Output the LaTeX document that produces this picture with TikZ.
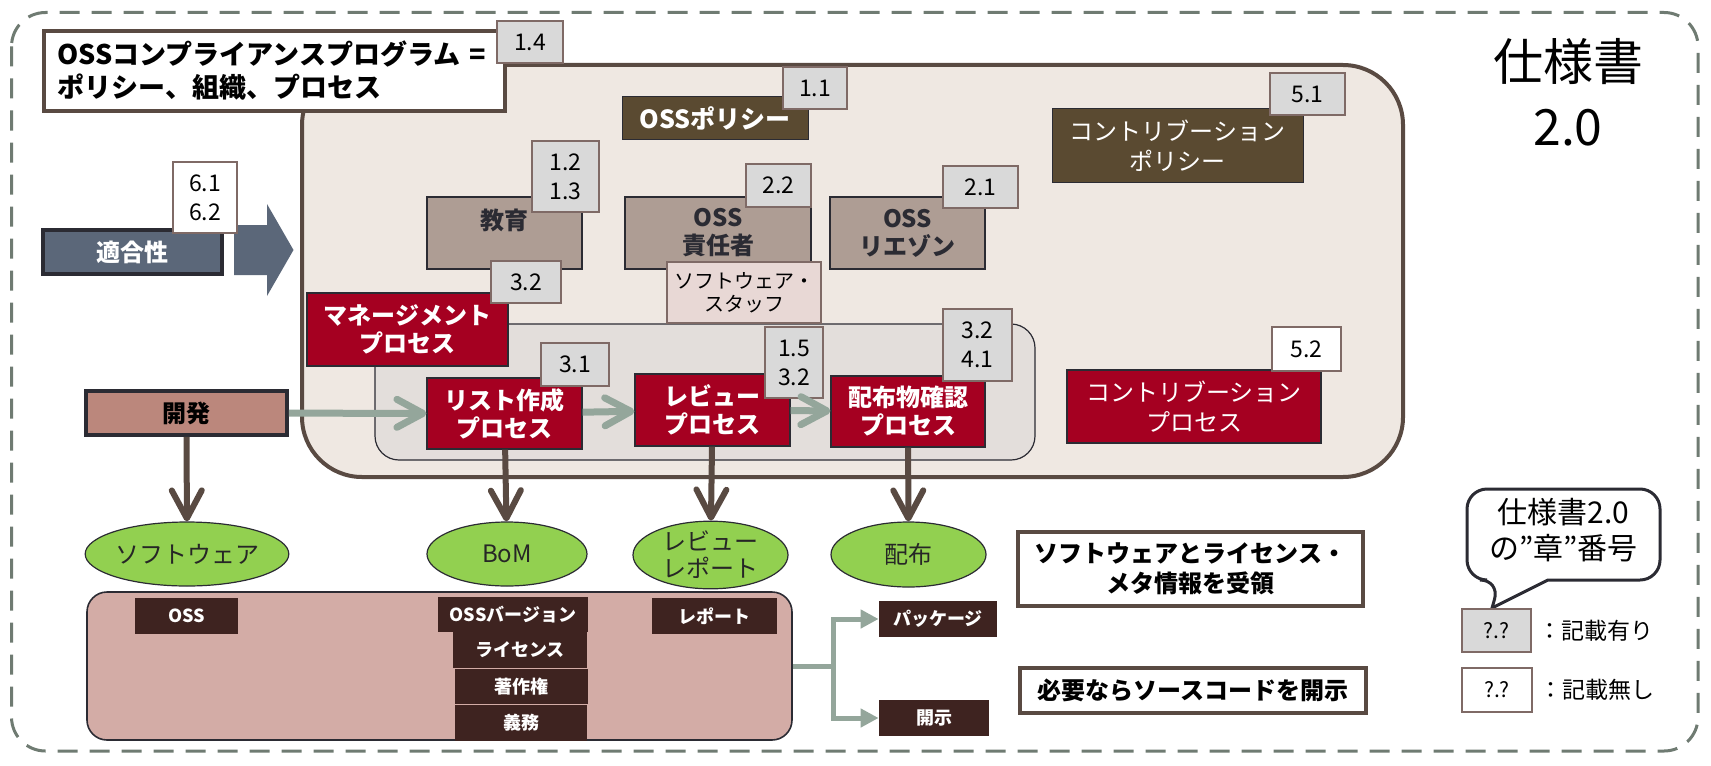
\documentclass[tikz,border=0pt]{standalone}
\usepackage{fontspec}
\setmainfont{Noto Sans CJK JP}
\usepackage{tikz}
\usetikzlibrary{positioning, shapes.geometric, arrows.meta}
\usetikzlibrary{calc}
\newcommand{\fsz}[2]{\fontsize{#1}{#2}\selectfont}
\definecolor{dashgray}{HTML}{6F7B72}
\definecolor{edgebrown}{HTML}{594A42}
\definecolor{darkline}{HTML}{2B2B33}
\definecolor{beige}{HTML}{EFE8E2}
\definecolor{innergray}{HTML}{E3DEDB}
\definecolor{crimson}{HTML}{A50021}
\definecolor{policybrown}{HTML}{5A4A31}
\definecolor{orgtaupe}{HTML}{AE9D94}
\definecolor{numgray}{HTML}{D9D9D9}
\definecolor{numedge}{HTML}{7F6A66}
\definecolor{staffpink}{HTML}{E8D8D5}
\definecolor{slate}{HTML}{5B6779}
\definecolor{devpink}{HTML}{BB877C}
\definecolor{flowgreen}{HTML}{94A69B}
\definecolor{leafgreen}{HTML}{92D050}
\definecolor{basepink}{HTML}{D3ACA6}
\definecolor{databrown}{HTML}{3E2320}
\tikzset{wh/.style 2 args={minimum width=#1*0.5pt, minimum height=#2*0.5pt}}
\tikzstyle{every node}=[inner sep=0pt, font=\fsz{12}{14}]
\tikzstyle{numbox} = [rectangle, draw=numedge, fill=numgray, line width=0.6pt, font=\fsz{11.5}{14.5}, align=center]
\tikzstyle{numboxw} = [numbox, fill=white]
\tikzstyle{procbox} = [rectangle, draw=darkline, line width=0.6pt, fill=crimson, text=white, font=\fsz{12}{14}\bfseries, align=center]
\tikzstyle{orgbox} = [rectangle, draw=darkline, line width=0.6pt, fill=orgtaupe, text=darkline, font=\fsz{12}{14}\bfseries, align=center]
\tikzstyle{policybox} = [rectangle, draw=darkline, line width=0.5pt, fill=policybrown, text=white, align=center]
\tikzstyle{outcome} = [ellipse, draw=darkline, line width=0.6pt, fill=leafgreen, text=black!85, font=\fsz{12}{13.5}, align=center]
\tikzstyle{databox} = [rectangle, fill=databrown, text=white, font=\fsz{9}{10}\bfseries]
\tikzstyle{notebox} = [rectangle, draw=edgebrown, line width=2pt, fill=white, font=\fsz{12}{15}\bfseries, align=center]
\tikzstyle{devbox} = [rectangle, draw=darkline, line width=1.8pt, font=\fsz{12}{14}\bfseries]
\tikzstyle{flowarrow} = [draw=flowgreen, line width=3.5pt, -{Straight Barb[length=13pt, width=14pt, round]}]
\tikzstyle{downarrow} = [draw=edgebrown, line width=3pt, -{Straight Barb[length=14pt, width=15pt, round]}]
\tikzstyle{forkline} = [draw=flowgreen, line width=2.5pt]
\tikzstyle{forkarrow} = [forkline, -{Triangle[length=9pt, width=9pt]}]

\begin{document}
\begin{tikzpicture}[x=0.5pt, y=-0.5pt]
    		\useasboundingbox (0,0) rectangle (1711,765);
    		%外枠
    		\draw[dashgray, line width=1.5pt, dash pattern=on 10pt off 6pt, rounded corners=17pt] (11.5,12.5) rectangle (1698,751);
    		\draw[edgebrown, line width=2pt, fill=beige, rounded corners=30pt] (302,65) rectangle (1403,477);
    		\draw[darkline, line width=0.6pt, fill=innergray, rounded corners=12pt] (375,324) rectangle (1035,460);
    		
    		%タイトル
    		\node (title) [rectangle, draw=edgebrown, line width=2pt, fill=white, wh={461}{80}, text width=217pt, align=left, font=\fsz{13.5}{16.5}\bfseries] at (274.5,71) {OSSコンプライアンスプログラム =\\ポリシー、組織、プロセス};
    		\node (spec) [font=\fsz{25}{32.5}, align=center] at (1568,92) {仕様書\\2.0};
    		
    		%ポリシーと組織
    		\node (policy) [policybox, wh={186}{42}, font=\fsz{12.5}{14}\bfseries] at (715,118) {OSSポリシー};
    		\node (cpolicy) [policybox, wh={251}{73}, font=\fsz{12}{15}] at (1177.5,145.5) {コントリブーション\\ポリシー};
    		\node (edu) [orgbox, wh={155}{72}] at (504.5,233) {教育\\~};
    		\node (officer) [orgbox, wh={186}{72}] at (718,233) {OSS\\責任者};
    		\node (staff) [rectangle, draw=numedge, line width=0.6pt, fill=staffpink, wh={154}{61}, font=\fsz{10}{11.5}, align=center] at (744,292.5) {ソフトウェア・\\スタッフ};
    		\node (liaison) [orgbox, wh={155}{72}] at (907.5,233) {OSS\\リエゾン};
    		
    		%プロセス
    		\node (mgmt) [procbox, wh={201}{73}] at (407.5,329.5) {マネージメント\\プロセス};
    		\node (listp) [procbox, wh={155}{71}] at (504.5,413.5) {リスト作成\\プロセス};
    		\node (reviewp) [procbox, wh={155}{72}] at (712.5,410) {レビュー\\プロセス};
    		\node (distp) [procbox, wh={154}{71}] at (908,411.5) {配布物確認\\プロセス};
    		\node (cproc) [procbox, wh={254}{73}, font=\fsz{12}{15}] at (1194,406.5) {コントリブーション\\プロセス};
    		
    		%適合性と開発
    		\node (conform) [devbox, fill=slate, text=white, wh={179}{44}] at (132.5,252) {適合性};
    		\fill[slate] (234,225) -- (267,225) -- (267,204) -- (293.5,250) -- (267,296) -- (267,275) -- (234,275) -- cycle;
    		\node (dev) [devbox, fill=devpink, wh={201}{44}] at (186.5,413) {開発};
    		
    		%章番号
    		\node (n14) [numbox, wh={66}{42}] at (530,42) {1.4};
    		\node (n11) [numbox, wh={64}{42}] at (815,88) {1.1};
    		\node (n51) [numbox, wh={75}{42}] at (1307.5,94) {5.1};
    		\node (n1213) [numbox, wh={67}{71}] at (565.5,176.5) {1.2\\1.3};
    		\node (n22) [numbox, wh={65}{43}] at (778.5,185.5) {2.2};
    		\node (n21) [numbox, wh={75}{42}] at (980.5,187) {2.1};
    		\node (n32a) [numbox, wh={70}{42}] at (526,282) {3.2};
    		\node (n31) [numbox, wh={68}{43}] at (575,364.5) {3.1};
    		\node (n1532) [numbox, wh={58}{71}] at (794,362.5) {1.5\\3.2};
    		\node (n3241) [numbox, wh={69}{72}] at (977.5,345) {3.2\\4.1};
    		\node (n52) [numboxw, wh={69}{44}] at (1306.5,349) {5.2};
    		\node (n6162) [numboxw, wh={64}{71}] at (205,197.5) {6.1\\6.2};
    		
    		%成果物
    		\node (soft) [outcome, wh={175}{64}] at (187,554) {ソフトウェア};
    		\node (bom) [outcome, wh={160}{64}] at (507,554) {BoM};
    		\node (report) [outcome, wh={155}{66}] at (710.5,555) {レビュー\\レポート};
    		\node (dist) [outcome, wh={155}{65}] at (908.5,554.5) {配布};
    		
    		\node (base) [rectangle, rounded corners=10pt, draw=darkline, line width=0.8pt, fill=basepink, wh={705}{148}] at (439.5,666) {};
    		\node (oss) [databox, wh={103}{36}] at (186.5,616) {OSS};
    		\node (ver) [databox, wh={150}{35}] at (513,614.5) {OSSバージョン};
    		\node (lic) [databox, wh={134}{36}] at (520,650) {ライセンス};
    		\node (copy) [databox, wh={133}{35}] at (521.5,686.5) {著作権};
    		\node (duty) [databox, wh={132}{36}] at (521,723) {義務};
    		\node (rep) [databox, wh={125}{36}] at (714.5,616) {レポート};
    		\node (pkg) [databox, wh={118}{36}] at (938,619) {パッケージ};
    		\node (open) [databox, wh={110}{36}] at (934,718) {開示};
    		
    		\node (note1) [notebox, wh={345}{74}] at (1190.5,569) {ソフトウェアとライセンス・\\メタ情報を受領};
    		\node (note2) [notebox, wh={346}{45}] at (1193,690.5) {必要ならソースコードを開示};
    		
    		%凡例
    		\draw[darkline, line width=1.5pt, fill=white] (1548,580) [rounded corners=10pt] -- (1660,580) -- (1660,489) -- (1467,489) -- (1467,580) -- (1500,580) [sharp corners] -- (1492,608) -- cycle;
    		\node (callout) [font=\fsz{15}{18}, align=center] at (1563.5,530) {仕様書2.0\\の”章”番号};
    		\node (lg1) [numbox, wh={69}{43}, font=\fsz{10.5}{12}] at (1496.5,630.5) {?.?};
    		\node (lg2) [numboxw, wh={70}{44}, font=\fsz{10.5}{12}] at (1497,690) {?.?};
    		\node (lgt1) [right=3pt of lg1, font=\fsz{11.5}{14}] {：記載有り};
    		\node (lgt2) [right=3pt of lg2, font=\fsz{11.5}{14}] {：記載無し};
    		
    		%矢印
    		\draw [flowarrow](dev) -- (listp);
    		\draw [flowarrow](listp) -- (reviewp);
    		\draw [flowarrow](reviewp) -- (distp);
    		\draw [downarrow](dev) -- (soft);
    		\draw [downarrow](listp) -- (bom);
    		\draw [downarrow](reviewp) -- (report);
    		\draw [downarrow](distp) -- (dist);
    		\draw [forkline](base.east) -- ++(41,0) coordinate (fork);
    		\draw [forkarrow](fork) |- (pkg.west);
    		\draw [forkarrow](fork) |- (open.west);
    	\end{tikzpicture}
\end{document}
